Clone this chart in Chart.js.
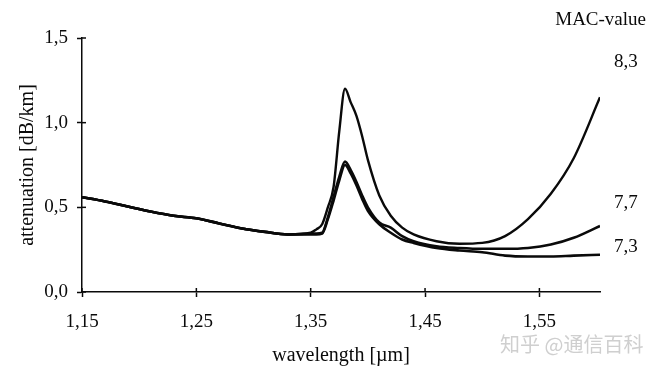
<!DOCTYPE html>
<html>
<head>
<meta charset="utf-8">
<script src="https://cdn.jsdelivr.net/npm/chart.js@4/dist/chart.umd.min.js"></script>
<style>
    html, body { margin: 0; padding: 0; background: #fff; }
    #wrap { width: 660px; height: 372px; }
</style>
</head>
<body>
<div id="wrap"><canvas id="attenuation-chart" width="660" height="372"></canvas></div>
<script>
const wavelengths = [1.15, 1.17, 1.19, 1.21, 1.23, 1.25, 1.27, 1.29, 1.31, 1.33, 1.35, 1.355, 1.36, 1.365, 1.37, 1.375, 1.38, 1.385, 1.39, 1.395, 1.40, 1.41, 1.42, 1.43, 1.44, 1.46, 1.48, 1.50, 1.52, 1.54, 1.56, 1.58, 1.603];
const mac83 = [0.56, 0.535, 0.505, 0.475, 0.45, 0.435, 0.405, 0.375, 0.355, 0.34, 0.35, 0.37, 0.40, 0.50, 0.62, 0.95, 1.20, 1.12, 1.04, 0.92, 0.78, 0.57, 0.45, 0.38, 0.34, 0.30, 0.285, 0.29, 0.33, 0.43, 0.58, 0.79, 1.15];
const mac77 = [0.56, 0.535, 0.505, 0.475, 0.45, 0.435, 0.405, 0.375, 0.355, 0.34, 0.345, 0.345, 0.35, 0.44, 0.56, 0.68, 0.77, 0.72, 0.65, 0.57, 0.50, 0.41, 0.38, 0.33, 0.30, 0.27, 0.26, 0.255, 0.255, 0.26, 0.28, 0.32, 0.39];
const mac73 = [0.56, 0.535, 0.505, 0.475, 0.45, 0.435, 0.405, 0.375, 0.355, 0.34, 0.34, 0.34, 0.345, 0.43, 0.54, 0.66, 0.75, 0.70, 0.63, 0.55, 0.48, 0.40, 0.35, 0.31, 0.29, 0.26, 0.245, 0.235, 0.215, 0.21, 0.21, 0.215, 0.22];
const xTicks = [1.15, 1.25, 1.35, 1.45, 1.55];
const yTicks = [0, 0.5, 1.0, 1.5];
const macLabels = ['8,3', '7,7', '7,3'];

const serif = '"Liberation Serif", "Times New Roman", "DejaVu Serif", serif';
const ink = '#0a0a0a';

const toPoints = (values) => wavelengths.map((w, i) => ({x: w, y: values[i]}));

const lineStyle = (values, width) => {
    return {
        data: toPoints(values),
        borderColor: ink,
        borderWidth: width,
        pointRadius: 0,
        fill: false,
        cubicInterpolationMode: 'monotone'
    };
};

// text outside the plot plus the little tick stubs that point into the plot
const annotations = {
    id: 'annotations',
    afterDraw: (chart) => {
        const ctx = chart.ctx;
        const area = chart.chartArea;
        ctx.save();
        ctx.strokeStyle = ink;
        ctx.lineWidth = 1.5;
        chart.scales.x.ticks.forEach(t => {
            const px = chart.scales.x.getPixelForValue(t.value);
            ctx.beginPath();
            ctx.moveTo(px, area.bottom);
            ctx.lineTo(px, area.bottom - 4);
            ctx.stroke();
        });
        chart.scales.y.ticks.forEach(t => {
            const py = chart.scales.y.getPixelForValue(t.value);
            ctx.beginPath();
            ctx.moveTo(area.left, py);
            ctx.lineTo(area.left + 4, py);
            ctx.stroke();
        });
        ctx.fillStyle = ink;
        ctx.textBaseline = 'middle';
        ctx.font = `19px ${serif}`;
        ctx.textAlign = 'right';
        ctx.fillText('MAC-value', 646, 20);
        ctx.textAlign = 'left';
        const labelY = [62, 203, 247];
        macLabels.forEach((label, i) => ctx.fillText(label, 614, labelY[i]));
        ctx.fillStyle = '#cfcfcf';
        ctx.font = `20px "Noto Sans CJK SC", sans-serif`;
        ctx.fillText('知乎 @通信百科', 500, 344);
        ctx.restore();
    }
};

const ctx = document.getElementById('attenuation-chart').getContext('2d');
new Chart(ctx, {
    type: 'line',
    data: {
        datasets: [
            lineStyle(mac83, 2.4),
            lineStyle(mac77, 2.6),
            lineStyle(mac73, 2.6)
        ]
    },
    options: {
        responsive: false,
        animation: false,
        layout: {
            padding: {top: 38, right: 60, left: 0, bottom: 0}
        },
        plugins: {
            legend: {display: false},
            tooltip: {enabled: false}
        },
        scales: {
            x: {
                type: 'linear',
                min: 1.15,
                max: 1.603,
                afterBuildTicks: (scale) => {
                    scale.ticks = xTicks.map(v => ({value: v}));
                },
                afterFit: (scale) => {
                    scale.height = 80;
                },
                grid: {
                    drawOnChartArea: false,
                    color: ink,
                    tickLength: 5,
                    tickWidth: 1.5
                },
                border: {color: ink, width: 1.5},
                ticks: {
                    color: ink,
                    padding: 14,
                    maxRotation: 0,
                    font: {family: serif, size: 19},
                    callback: (value) => value.toFixed(2).replace('.', ',')
                },
                title: {
                    display: true,
                    text: 'wavelength [µm]',
                    color: ink,
                    font: {family: serif, size: 20},
                    padding: {top: 1}
                }
            },
            y: {
                min: 0,
                max: 1.5,
                afterBuildTicks: (scale) => {
                    scale.ticks = yTicks.map(v => ({value: v}));
                },
                afterFit: (scale) => {
                    scale.width = 82;
                },
                grid: {
                    drawOnChartArea: false,
                    color: ink,
                    tickLength: 5,
                    tickWidth: 1.5
                },
                border: {color: ink, width: 1.5},
                ticks: {
                    color: ink,
                    padding: 9,
                    font: {family: serif, size: 19},
                    callback: (value) => value.toFixed(1).replace('.', ',')
                },
                title: {
                    display: true,
                    text: 'attenuation [dB/km]',
                    color: ink,
                    font: {family: serif, size: 20},
                    padding: {top: 16, bottom: 0}
                }
            }
        }
    },
    plugins: [annotations]
});
</script>
</body>
</html>
